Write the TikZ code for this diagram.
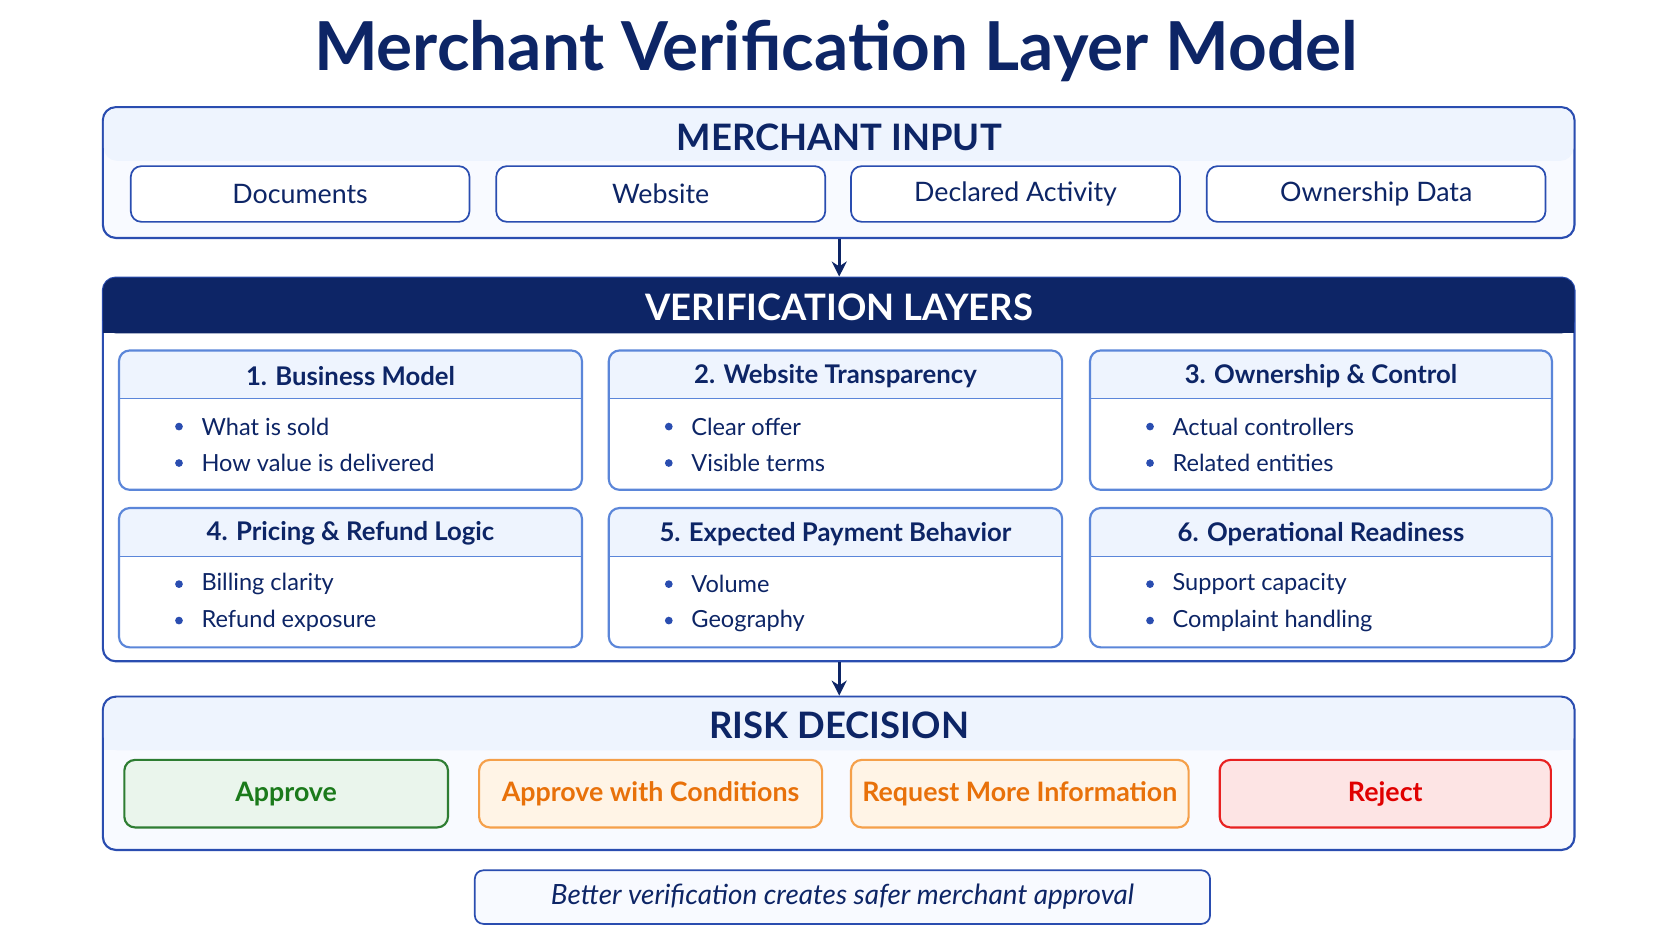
\documentclass[tikz,border=0pt]{standalone}
\usepackage{fontspec}
\setmainfont{Lato}
\usetikzlibrary{fit,arrows.meta}
\definecolor{navy}{HTML}{0D2566}
\definecolor{bord}{HTML}{2A4DB0}
\definecolor{cbord}{HTML}{5B86D9}
\definecolor{lite}{HTML}{EEF4FE}
\definecolor{vlite}{HTML}{F8FAFF}
\definecolor{gfill}{HTML}{EAF5EC}\definecolor{gbord}{HTML}{2E7D32}\definecolor{gtxt}{HTML}{1B7A1B}
\definecolor{ofill}{HTML}{FFF4E6}\definecolor{obord}{HTML}{F5A04A}\definecolor{otxt}{HTML}{E8710A}
\definecolor{rfill}{HTML}{FDE4E4}\definecolor{rbord}{HTML}{E82020}\definecolor{rtxt}{HTML}{E00000}
\newcommand\card[7]{%
  \begin{scope}
    \clip[rounded corners=5] (#1,#3) rectangle (#2,#3+130);
    \fill[white] (#1,#3) rectangle (#2,#3+130);
    \fill[lite] (#1,#3) rectangle (#2,#3+45);
  \end{scope}
  \coordinate (#7a) at (#1,#3); \coordinate (#7b) at (#2,#3+130);
  \node[cardbox,fit=(#7a)(#7b)] (#7) {};
  \draw[cbord,line width=0.7pt] (#1,#3+45) -- (#2,#3+45);
  \node[cardhead] (#7t) at ({(#1+#2)/2},#3+24) {#4};
  \fill[bord] (#1+56,#3+71) circle (3.6);
  \fill[bord] (#1+56,#3+105) circle (3.6);
  \node[bul] (#7p) at (#1+70,#3+71) {#5};
  \node[bul] (#7q) at (#1+70,#3+105) {#6};
}
\begin{document}
\begin{tikzpicture}[x=0.5pt,y=-0.5pt,
  bigbox/.style={draw=bord,line width=1pt,rounded corners=6,inner sep=0},
  cardbox/.style={draw=cbord,line width=1pt,rounded corners=5,inner sep=0},
  inbox/.style={draw=bord,line width=0.8pt,rounded corners=5,fill=white,inner sep=0,font=\fontsize{12.5}{14}\selectfont,text=navy},
  head/.style={font=\fontsize{17}{20}\selectfont\bfseries,text=navy},
  cardhead/.style={font=\fontsize{12}{14}\selectfont\bfseries,text=navy},
  bul/.style={anchor=west,font=\fontsize{11}{14}\selectfont,text=navy},
  btn/.style={line width=1pt,rounded corners=5,inner sep=0,font=\fontsize{12.5}{16}\selectfont\bfseries},
  arr/.style={-{Stealth[length=7pt,width=7pt]},navy,line width=1.3pt}]
\useasboundingbox (0,0) rectangle (1560,878);
\fill[white] (0,0) rectangle (1560,878);
\node[font=\fontsize{31.5}{36}\selectfont\bfseries,text=navy] (title) at (780,48) {Merchant Verification Layer Model};
% input
\coordinate (ia) at (96,100); \coordinate (ib) at (1469,222);
\node[bigbox,fill=vlite,fit=(ia)(ib)] (input) {};
\fill[lite,rounded corners=6] (97,101) rectangle (1468,150);
\node[head] (inh) at (783,128) {MERCHANT INPUT};
\node[inbox,minimum width=316*0.5pt,minimum height=52*0.5pt] (doc) at (280,181) {Documents};
\node[inbox,minimum width=307*0.5pt,minimum height=52*0.5pt] (web) at (616.5,181) {Website};
\node[inbox,minimum width=307*0.5pt,minimum height=52*0.5pt] (dec) at (947.5,181) {Declared Activity};
\node[inbox,minimum width=316*0.5pt,minimum height=52*0.5pt] (own) at (1284,181) {Ownership Data};
% verification
\coordinate (va) at (96,259); \coordinate (vb) at (1469,617);
\node[bigbox,fill=white,fit=(va)(vb)] (ver) {};
\fill[navy,rounded corners=6] (96,259) rectangle (1469,311);
\fill[navy] (96,290) rectangle (1469,311);
\node[font=\fontsize{17}{20}\selectfont\bfseries,text=white] (verh) at (783,287) {VERIFICATION LAYERS};
\card{111}{543}{327}{1. Business Model}{What is sold}{How value is delivered}{c1}
\card{568}{991}{327}{2. Website Transparency}{Clear offer}{Visible terms}{c2}
\card{1017}{1448}{327}{3. Ownership \& Control}{Actual controllers}{Related entities}{c3}
\card{111}{543}{474}{4. Pricing \& Refund Logic}{Billing clarity}{Refund exposure}{c4}
\card{568}{991}{474}{5. Expected Payment Behavior}{Volume}{Geography}{c5}
\card{1017}{1448}{474}{6. Operational Readiness}{Support capacity}{Complaint handling}{c6}
% risk
\coordinate (ra) at (96,650); \coordinate (rb) at (1469,793);
\node[bigbox,fill=vlite,fit=(ra)(rb)] (risk) {};
\fill[lite,rounded corners=6] (97,651) rectangle (1468,700);
\fill[lite] (97,680) rectangle (1468,700);
\node[head] (riskh) at (783,677) {RISK DECISION};
\node[btn,draw=gbord,fill=gfill,text=gtxt,minimum width=302*0.5pt,minimum height=63*0.5pt] (app) at (267,740.5) {Approve};
\node[btn,draw=obord,fill=ofill,text=otxt,minimum width=320*0.5pt,minimum height=63*0.5pt] (cond) at (607,740.5) {Approve with Conditions};
\node[btn,draw=obord,fill=ofill,text=otxt,minimum width=315*0.5pt,minimum height=63*0.5pt] (req) at (951.5,740.5) {Request More Information};
\node[btn,draw=rbord,fill=rfill,text=rtxt,minimum width=309*0.5pt,minimum height=63*0.5pt] (rej) at (1292.5,740.5) {Reject};
% footer
\node[draw=bord,line width=0.8pt,fill=vlite,rounded corners=4,minimum width=686*0.5pt,minimum height=50*0.5pt,font=\fontsize{13}{15}\selectfont\itshape,text=navy] (foot) at (786,837) {Better verification creates safer merchant approval};
% arrows
\draw[arr] (input.south -| 783,0) -- (ver.north -| 783,0);
\draw[arr] (ver.south -| 783,0) -- (risk.north -| 783,0);
\end{tikzpicture}
\end{document}
